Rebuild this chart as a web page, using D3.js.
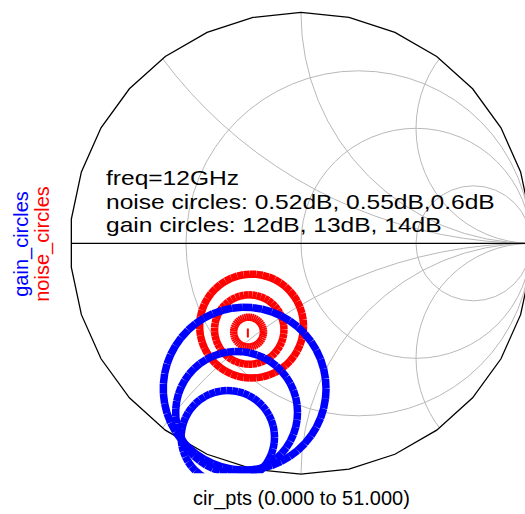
<!DOCTYPE html>
<html><head><meta charset="utf-8">
<script src="https://cdn.jsdelivr.net/npm/d3@7"></script>
<style>html,body{margin:0;padding:0;background:#fff;} svg{display:block;font-family:"Liberation Sans",Arial,sans-serif;}</style>
</head><body><svg id="c" width="525" height="514"></svg>
<script>
// ---- data (reflection coefficient plane) ----
const cirPts = d3.range(0, 52);               // sweep index 0 .. 51
const noiseLabels   = ["0.52dB", "0.55dB", "0.6dB"];
const noiseCenterRe = [-0.228, -0.225, -0.215];
const noiseCenterIm = [-0.386, -0.375, -0.360];
const noiseRadius   = [0.065, 0.151, 0.226];
const gammaOpt      = [-0.231, -0.390];
const gainLabels    = ["12dB", "13dB", "14dB"];
const gainCenterRe  = [-0.245, -0.280, -0.318];
const gainCenterIm  = [-0.632, -0.735, -0.843];
const gainRadius    = [0.354, 0.265, 0.203];
const resistanceGrid = [1/3, 1, 3];
const reactanceGrid  = [0.5, 1, 2];
const annotation = ["freq=12GHz",
  "noise circles: " + noiseLabels.slice(0,2).join(", ") + "," + noiseLabels[2],
  "gain circles: " + gainLabels.join(", ")];

// ---- layout ----
const svg = d3.select("#c");
const x = d3.scaleLinear().domain([-1, 1]).range([71, 531]);
const y = d3.scaleLinear().domain([-1, 1]).range([473.3, 13.3]);
const R = x(1) - x(0);

const defs = svg.append("defs");
defs.append("clipPath").attr("id", "unit").append("circle")
  .attr("cx", x(0)).attr("cy", y(0)).attr("r", R);
defs.append("clipPath").attr("id", "box").append("rect")
  .attr("x", x(-1)).attr("y", y(1)).attr("width", x(1) - x(-1)).attr("height", y(-1) - y(1));

// grid
const grid = svg.append("g").attr("clip-path", "url(#unit)")
  .attr("fill", "none").attr("stroke", "#b8b8b8").attr("stroke-width", 1);
resistanceGrid.forEach(r => {
  grid.append("circle").attr("cx", x(r / (1 + r))).attr("cy", y(0))
    .attr("r", x(1 / (1 + r)) - x(0));
});
reactanceGrid.forEach(X => {
  [1, -1].forEach(s => {
    grid.append("circle").attr("cx", x(1)).attr("cy", y(s / X))
      .attr("r", x(1 / X) - x(0));
  });
});

// outer boundary (polygonal) and real axis
const nSides = 30;
const poly = d3.range(nSides + 1).map(k => {
  const a = (6 + 12 * k) * Math.PI / 180;
  return [x(1.004 * Math.cos(a)), y(1.004 * Math.sin(a))];
});
svg.append("path").attr("d", d3.line()(poly)).attr("fill", "none")
  .attr("stroke", "#000").attr("stroke-width", 1.3);
svg.append("line").attr("x1", x(-1)).attr("x2", x(1)).attr("y1", y(0)).attr("y2", y(0))
  .attr("stroke", "#000").attr("stroke-width", 1.2);

// circles, drawn segment by segment
const plot = svg.append("g").attr("clip-path", "url(#box)");
function drawCircle(cr, ci, rad, color) {
  const n = cirPts.length - 1;
  const pts = cirPts.map(i => {
    const a = 2 * Math.PI * i / n;
    return [x(cr + rad * Math.cos(a)), y(ci + rad * Math.sin(a))];
  });
  const segs = d3.pairs(pts);
  plot.append("g").selectAll("line").data(segs).join("line")
    .attr("x1", d => d[0][0]).attr("y1", d => d[0][1])
    .attr("x2", d => d[1][0]).attr("y2", d => d[1][1])
    .attr("stroke", color).attr("stroke-width", 7.5).attr("stroke-linecap", "butt");
}
noiseRadius.forEach((r, i) => drawCircle(noiseCenterRe[i], noiseCenterIm[i], r, "#ff0000"));
plot.append("line").attr("x1", x(gammaOpt[0])).attr("x2", x(gammaOpt[0]))
  .attr("y1", y(gammaOpt[1]) - 4.5).attr("y2", y(gammaOpt[1]) + 4.5)
  .attr("stroke", "#ff0000").attr("stroke-width", 2);
gainRadius.forEach((r, i) => drawCircle(gainCenterRe[i], gainCenterIm[i], r, "#0000ff"));

// texts
const ann = svg.append("g").attr("font-size", 20).attr("fill", "#000");
[185, 209, 232].forEach((by, i) => {
  ann.append("text").attr("transform", `translate(106,${by}) scale(1.228,1)`).text(annotation[i]);
});
svg.append("text").attr("transform", "translate(28,244) rotate(-90)")
  .attr("text-anchor", "middle").attr("font-size", 20).attr("fill", "#0000ff").text("gain_circles");
svg.append("text").attr("transform", "translate(49,244) rotate(-90)")
  .attr("text-anchor", "middle").attr("font-size", 20).attr("fill", "#ff0000").text("noise_circles");
svg.append("text").attr("x", 301.5).attr("y", 505).attr("text-anchor", "middle")
  .attr("font-size", 20).attr("fill", "#000")
  .text(`cir_pts (${d3.format(".3f")(cirPts[0])} to ${d3.format(".3f")(cirPts[cirPts.length-1])})`);
</script></body></html>
